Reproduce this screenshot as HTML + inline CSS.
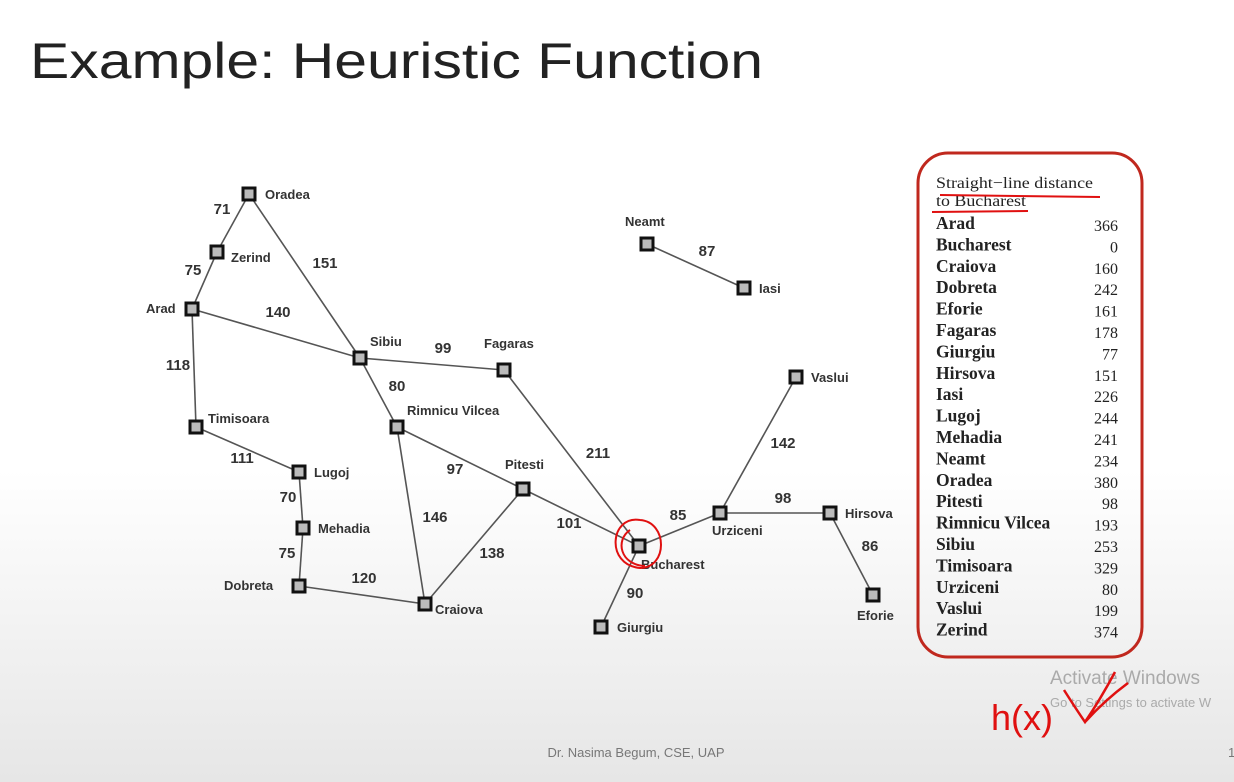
<!DOCTYPE html>
<html><head><meta charset="utf-8"><style>
html,body{margin:0;padding:0}
body{width:1234px;height:782px;overflow:hidden;background:linear-gradient(#fff 0,#fff 470px,#e6e6e6 782px);}
svg{display:block}
</style></head><body>
<svg width="1234" height="782" viewBox="0 0 1234 782">
<text x="30" y="78" font-family="Liberation Sans, sans-serif" font-size="50" fill="#222" textLength="733" lengthAdjust="spacingAndGlyphs">Example: Heuristic Function</text>
<g id="graph"></g>
<rect x="918" y="153" width="224" height="504" rx="30" fill="none" stroke="#c0281e" stroke-width="3"/>
<text x="936" y="188" font-family="Liberation Serif, serif" font-size="16" fill="#222" textLength="157" lengthAdjust="spacingAndGlyphs">Straight−line distance</text>
<text x="936" y="206" font-family="Liberation Serif, serif" font-size="16" fill="#222" textLength="90" lengthAdjust="spacingAndGlyphs">to Bucharest</text>
<path d="M940 195 L1100 197" stroke="#e01010" stroke-width="2" fill="none"/>
<path d="M932 212 L1028 211" stroke="#e01010" stroke-width="2" fill="none"/>
<g id="table"></g>
<text x="1050" y="684" font-family="Liberation Sans, sans-serif" font-size="19" fill="#aaa">Activate Windows</text>
<text x="1050" y="707" font-family="Liberation Sans, sans-serif" font-size="13" fill="#aaa">Go to Settings to activate W</text>
<text x="991" y="730" font-family="Liberation Sans, sans-serif" font-size="36" fill="#e01010">h(x)</text>
<path d="M1064 690 Q1078 712 1085 722 Q1100 700 1115 672 M1085 722 Q1105 700 1128 683" stroke="#e01010" stroke-width="2.5" fill="none"/>
<path d="M640 520 C610 515 605 565 640 568 C668 568 668 522 640 520 M630 530 C615 540 620 565 645 566" stroke="#e01010" stroke-width="2" fill="none"/>
<text x="636" y="757" text-anchor="middle" font-family="Liberation Sans, sans-serif" font-size="13" fill="#777">Dr. Nasima Begum, CSE, UAP</text>
<text x="1228" y="757" font-family="Liberation Sans, sans-serif" font-size="13" fill="#777">1</text>
</svg>
<script>
const NS='http://www.w3.org/2000/svg';
const cityNames=['Oradea','Zerind','Arad','Sibiu','Fagaras','Timisoara','Lugoj','Mehadia','Dobreta','Rimnicu Vilcea','Pitesti','Craiova','Bucharest','Giurgiu','Urziceni','Hirsova','Eforie','Vaslui','Iasi','Neamt'];
const cityX=[249,217,192,360,504,196,299,303,299,397,523,425,639,601,720,830,873,796,744,647];
const cityY=[194,252,309,358,370,427,472,528,586,427,489,604,546,627,513,513,595,377,288,244];
const labelDX=[16,14,-46,10,-20,12,15,15,-75,10,-18,10,2,16,-8,15,-16,15,15,-22];
const labelDY=[5,10,4,-12,-22,-4,5,5,4,-12,-20,10,23,5,22,5,25,5,5,-18];
const edgeFrom=[0,0,1,2,2,3,3,5,6,7,9,9,10,4,8,12,12,14,14,15,17,18];
const edgeTo=[1,3,2,3,5,4,9,6,7,8,10,11,11,12,11,10,13,12,15,16,14,19];
const edgeCost=[71,151,75,140,118,99,80,111,70,75,97,146,138,211,120,101,90,85,98,86,142,87];
const edgeLX=[222,325,193,278,178,443,397,242,288,287,455,435,492,598,364,569,635,678,783,870,783,707];
const edgeLY=[214,268,275,317,370,353,391,463,502,558,474,522,558,458,583,528,598,520,503,551,448,256];
const g=document.getElementById('graph');
function mk(t,a,p){const e=document.createElementNS(NS,t);for(const k in a)e.setAttribute(k,a[k]);(p||g).appendChild(e);return e;}
edgeFrom.forEach((f,i)=>{const t=edgeTo[i];
 const l=mk('line',{x1:cityX[f],y1:cityY[f],x2:cityX[t],y2:cityY[t],stroke:'#555','stroke-width':1.6});
 
 
 const tx=mk('text',{x:edgeLX[i],y:edgeLY[i],'text-anchor':'middle','font-family':'Liberation Sans, sans-serif','font-size':15,'font-weight':'bold',fill:'#333'});
 tx.textContent=edgeCost[i];
 
 
});
cityNames.forEach((n,i)=>{
 const r=mk('rect',{x:cityX[i]-6,y:cityY[i]-6,width:12,height:12,fill:'#bbb',stroke:'#111','stroke-width':3});
 
 
 const t=mk('text',{x:cityX[i]+labelDX[i],y:cityY[i]+labelDY[i],'font-family':'Liberation Sans, sans-serif','font-size':13,'font-weight':'bold',fill:'#333'});
 t.textContent=n;
 
 
});
const tblNames=['Arad','Bucharest','Craiova','Dobreta','Eforie','Fagaras','Giurgiu','Hirsova','Iasi','Lugoj','Mehadia','Neamt','Oradea','Pitesti','Rimnicu Vilcea','Sibiu','Timisoara','Urziceni','Vaslui','Zerind'];
const tblValues=[366,0,160,242,161,178,77,151,226,244,241,234,380,98,193,253,329,80,199,374];
const tb=document.getElementById('table');
tblNames.forEach((n,i)=>{const y=229+i*21.4;
 const a=mk('text',{x:936,y:y,'font-family':'Liberation Serif, serif','font-size':17.5,'font-weight':'bold',fill:'#222'},tb);
 a.textContent=n;
 
 
 const b=mk('text',{x:1118,y:y+2,'text-anchor':'end','font-family':'Liberation Serif, serif','font-size':16,fill:'#222'},tb);
 b.textContent=tblValues[i];
 
 
});
</script>
</body></html>
